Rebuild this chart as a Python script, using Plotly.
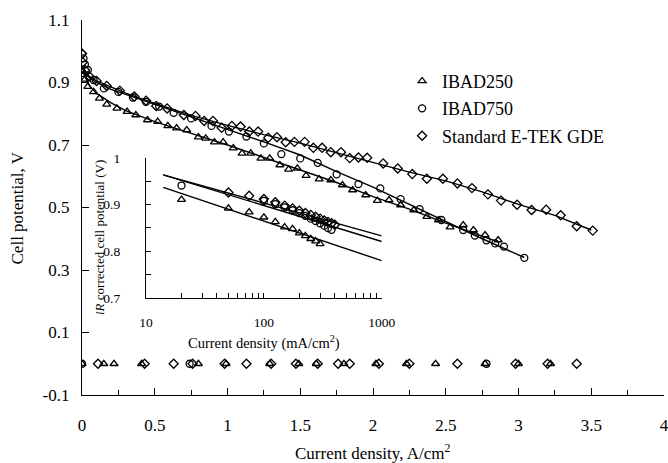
import plotly.graph_objects as go

# ---------------- main polarization data (A/cm^2, V) ----------------
ibad250_x = [0, 0.01, 0.02, 0.04, 0.08, 0.12, 0.17, 0.24, 0.31, 0.37, 0.45, 0.52, 0.59, 0.65,
             0.72, 0.80, 0.85, 0.91, 0.97, 1.04, 1.10, 1.16, 1.23, 1.29, 1.36, 1.42, 1.48, 1.54,
             1.63, 1.71, 1.79, 1.86, 1.95, 2.03, 2.11, 2.19, 2.28, 2.37, 2.45, 2.53, 2.62, 2.69,
             2.77, 2.86]
ibad250_v = [0.935, 0.925, 0.91, 0.887, 0.87, 0.849, 0.83, 0.817, 0.807, 0.796, 0.78, 0.775,
             0.761, 0.754, 0.748, 0.725, 0.721, 0.709, 0.709, 0.69, 0.673, 0.673, 0.657, 0.657,
             0.636, 0.622, 0.625, 0.602, 0.591, 0.588, 0.572, 0.556, 0.54, 0.522, 0.524, 0.508,
             0.492, 0.471, 0.46, 0.437, 0.444, 0.428, 0.412, 0.396]

ibad750_x = [0, 0.01, 0.02, 0.04, 0.08, 0.15, 0.25, 0.35, 0.44, 0.53, 0.63, 0.75, 0.89, 1.01,
             1.13, 1.25, 1.37, 1.50, 1.62, 1.75, 1.90, 2.05, 2.19, 2.32, 2.47, 2.62, 2.70, 2.78,
             2.84, 2.90, 3.04]
ibad750_v = [0.991, 0.977, 0.958, 0.94, 0.908, 0.881, 0.870, 0.852, 0.838, 0.823, 0.803, 0.785,
             0.761, 0.743, 0.727, 0.705, 0.671, 0.657, 0.643, 0.606, 0.575, 0.561, 0.527, 0.495,
             0.46, 0.428, 0.41, 0.395, 0.385, 0.375, 0.339]

etek_x = [0, 0.005, 0.02, 0.05, 0.10, 0.17, 0.26, 0.36, 0.44, 0.51, 0.585, 0.70, 0.78, 0.84,
          0.90, 0.96, 1.03, 1.09, 1.15, 1.21, 1.28, 1.34, 1.40, 1.46, 1.53, 1.59, 1.65, 1.71,
          1.78, 1.84, 1.90, 1.96, 2.07, 2.17, 2.27, 2.37, 2.48, 2.58, 2.68, 2.79, 2.88, 2.99,
          3.09, 3.19, 3.29, 3.40, 3.51]
etek_v = [0.993, 0.965, 0.94, 0.92, 0.905, 0.889, 0.874, 0.855, 0.842, 0.825, 0.817, 0.796,
          0.793, 0.777, 0.777, 0.755, 0.761, 0.759, 0.743, 0.743, 0.723, 0.725, 0.709, 0.71,
          0.71, 0.691, 0.691, 0.677, 0.677, 0.658, 0.66, 0.659, 0.641, 0.625, 0.607, 0.592,
          0.592, 0.577, 0.562, 0.542, 0.522, 0.509, 0.492, 0.493, 0.475, 0.44, 0.426]

# fitted curves
fit250_x = [0.01, 0.05, 0.1, 0.2, 0.3, 0.5, 0.75, 1.0, 1.25, 1.5, 1.75, 2.0, 2.25, 2.5, 2.86]
fit250_v = [0.93, 0.89, 0.865, 0.835, 0.81, 0.775, 0.737, 0.70, 0.66, 0.62, 0.58, 0.535,
            0.495, 0.45, 0.39]
fit750_x = [0.01, 0.05, 0.1, 0.2, 0.3, 0.5, 0.75, 1.0, 1.25, 1.5, 1.75, 2.0, 2.25, 2.5, 2.75, 3.04]
fit750_v = [0.945, 0.915, 0.90, 0.878, 0.862, 0.83, 0.79, 0.752, 0.71, 0.668, 0.615, 0.565,
            0.51, 0.455, 0.40, 0.34]
fitetek_x = [0.01, 0.05, 0.1, 0.2, 0.3, 0.5, 0.75, 1.0, 1.25, 1.5, 1.75, 2.0, 2.25, 2.5,
             2.75, 3.0, 3.25, 3.5]
fitetek_v = [0.945, 0.92, 0.905, 0.885, 0.866, 0.833, 0.795, 0.763, 0.733, 0.706, 0.675,
             0.646, 0.613, 0.585, 0.55, 0.51, 0.475, 0.428]

# markers lying on the 0 V line
zero250_x = [0, 0.15, 0.22, 0.41, 0.80, 0.99, 1.29, 1.49, 1.61, 1.80, 2.02, 2.23, 2.43,
             2.77, 3.00, 3.22]
zero750_x = [0.0, 0.74, 2.78]
zeroetek_x = [0.11, 0.43, 0.63, 0.76, 0.98, 1.13, 1.30, 1.47, 1.62, 1.76, 1.84, 2.04, 2.25,
              2.58, 2.98, 3.20, 3.40]

# ---------------- inset: iR corrected (mA/cm^2, V) ----------------
in250_x = [20, 50, 75, 100, 125, 150, 175, 200, 225, 250, 275, 300]
in250_v = [0.911, 0.892, 0.884, 0.873, 0.863, 0.852, 0.848, 0.839, 0.833, 0.827, 0.822, 0.816]
in750_x = [20, 100, 125, 150, 175, 200, 225, 250, 275, 300, 325, 350, 375]
in750_v = [0.941, 0.908, 0.901, 0.894, 0.888, 0.882, 0.876, 0.870, 0.865, 0.860, 0.855,
           0.850, 0.846]
inetek_x = [50, 75, 100, 125, 150, 175, 200, 225, 250, 275, 300, 325, 350, 375, 400]
inetek_v = [0.926, 0.919, 0.912, 0.905, 0.898, 0.892, 0.887, 0.882, 0.878, 0.874, 0.870,
            0.866, 0.863, 0.860, 0.857]
tafel_x = [14, 1000]
tafel250_v = [0.937, 0.780]
tafel750_v = [0.964, 0.821]
tafeletek_v = [0.964, 0.833]

names = ["IBAD250", "IBAD750", "Standard E-TEK GDE"]
symbols = ["triangle-up-open", "circle-open", "diamond-open"]

FONT = "Liberation Serif, Times New Roman, serif"
fig = go.Figure()


def mk(sym, size=7):
    return dict(symbol=sym, size=size, color="black", line=dict(color="black", width=1.3))


line = dict(color="black", width=1.4)

main_sets = [(ibad250_x, ibad250_v, fit250_x, fit250_v, zero250_x),
             (ibad750_x, ibad750_v, fit750_x, fit750_v, zero750_x),
             (etek_x, etek_v, fitetek_x, fitetek_v, zeroetek_x)]
for i, (dx, dv, fx, fv, zx) in enumerate(main_sets):
    fig.add_trace(go.Scatter(x=fx, y=fv, mode="lines", line=line, showlegend=False,
                             hoverinfo="skip"))
    fig.add_trace(go.Scatter(x=dx, y=dv, mode="markers", marker=mk(symbols[i]),
                             name=names[i], legendgroup=names[i]))
    fig.add_trace(go.Scatter(x=zx, y=[0] * len(zx), mode="markers", marker=mk(symbols[i]),
                             showlegend=False))

inset_sets = [(in250_x, in250_v, tafel250_v), (in750_x, in750_v, tafel750_v),
              (inetek_x, inetek_v, tafeletek_v)]
for i, (ix, iv, tv) in enumerate(inset_sets):
    fig.add_trace(go.Scatter(x=tafel_x, y=tv, mode="lines", line=line, showlegend=False,
                             xaxis="x2", yaxis="y2"))
    fig.add_trace(go.Scatter(x=ix, y=iv, mode="markers", marker=mk(symbols[i]),
                             showlegend=False, xaxis="x2", yaxis="y2"))

ytick_vals = [-0.1, 0.1, 0.3, 0.5, 0.7, 0.9, 1.1]
ytick_text = ["-0.1", "0.1", "0.3", "0.5", "0.7", "0.9", "1.1"]
in_xvals = [10, 20, 30, 40, 50, 60, 70, 80, 90, 100, 200, 300, 400, 500, 600, 700, 800, 900, 1000]
in_xtext = ["10"] + [""] * 8 + ["100"] + [""] * 8 + ["1000"]
in_yvals = [0.7, 0.75, 0.8, 0.85, 0.9, 0.95, 1.0]
in_ytext = ["0.7", "", "0.8", "", "0.9", "", "1"]

fig.update_layout(
    width=668, height=463,
    margin=dict(l=82, r=4, t=20, b=68, autoexpand=False),
    paper_bgcolor="white", plot_bgcolor="rgba(0,0,0,0)",
    font=dict(family=FONT, size=17, color="black"),
    xaxis=dict(range=[0, 4], tickvals=[0, 0.5, 1, 1.5, 2, 2.5, 3, 3.5, 4],
               ticktext=["0", "0.5", "1", "1.5", "2", "2.5", "3", "3.5", "4"],
               showline=True, linecolor="black", linewidth=1.3, ticks="inside", ticklen=7,
               tickcolor="black", showgrid=False, zeroline=False, ticklabelstandoff=14,
               automargin=False, ticklabeloverflow="allow",
               minor=dict(tickvals=[0.25, 0.75, 1.25, 1.75, 2.25, 2.75, 3.25, 3.75],
                          ticks="inside", ticklen=5, tickcolor="black", showgrid=False),
               tickfont=dict(size=17)),
    yaxis=dict(range=[-0.1, 1.1], tickvals=ytick_vals, ticktext=ytick_text,
               showline=True, linecolor="black", linewidth=1.3, ticks="inside", ticklen=7,
               tickcolor="black", showgrid=False, zeroline=False, ticklabelstandoff=8,
               automargin=False, tickfont=dict(size=17)),
    xaxis2=dict(type="log", range=[1, 3], domain=[0.110, 0.515], anchor="y2",
                tickvals=in_xvals, ticktext=in_xtext, showline=True, linecolor="black",
                linewidth=1.3, ticks="inside", ticklen=5, tickcolor="black", showgrid=False,
                zeroline=False, ticklabelstandoff=12, automargin=False,
                tickfont=dict(size=13.5)),
    yaxis2=dict(range=[0.7, 1.0], domain=[0.2587, 0.632], anchor="x2",
                tickvals=in_yvals, ticktext=in_ytext, showline=True, linecolor="black",
                linewidth=1.3, ticks="inside", ticklen=5, tickcolor="black", showgrid=False,
                zeroline=False, ticklabelstandoff=22, automargin=False,
                tickfont=dict(size=13.5)),
    legend=dict(x=0.55, y=0.886, xanchor="left", yanchor="top", bgcolor="rgba(0,0,0,0)",
                font=dict(size=18), tracegroupgap=1, itemwidth=30),
    showlegend=True,
    annotations=[
        dict(text="Cell potential, V", xref="paper", yref="paper", x=-0.11, y=0.5,
             xanchor="center", yanchor="middle", textangle=-90, showarrow=False,
             font=dict(size=17)),
        dict(text="Current density, A/cm<sup>2</sup>", xref="paper", yref="paper", x=0.5,
             y=-0.152, xanchor="center", yanchor="middle", showarrow=False,
             font=dict(size=17)),
        dict(text="<i>iR</i> corrected cell potential (V)", xref="paper", yref="paper",
             x=0.029, y=0.421, xanchor="center", yanchor="middle", textangle=-90,
             showarrow=False, font=dict(size=13)),
        dict(text="Current density (mA/cm<sup>2</sup>)", xref="paper", yref="paper",
             x=0.3125, y=0.141, xanchor="center", yanchor="middle", showarrow=False,
             font=dict(size=14.5)),
    ],
)

fig.write_html("out.html", config={"displayModeBar": False},
               post_script="document.body.style.margin='0px';")
